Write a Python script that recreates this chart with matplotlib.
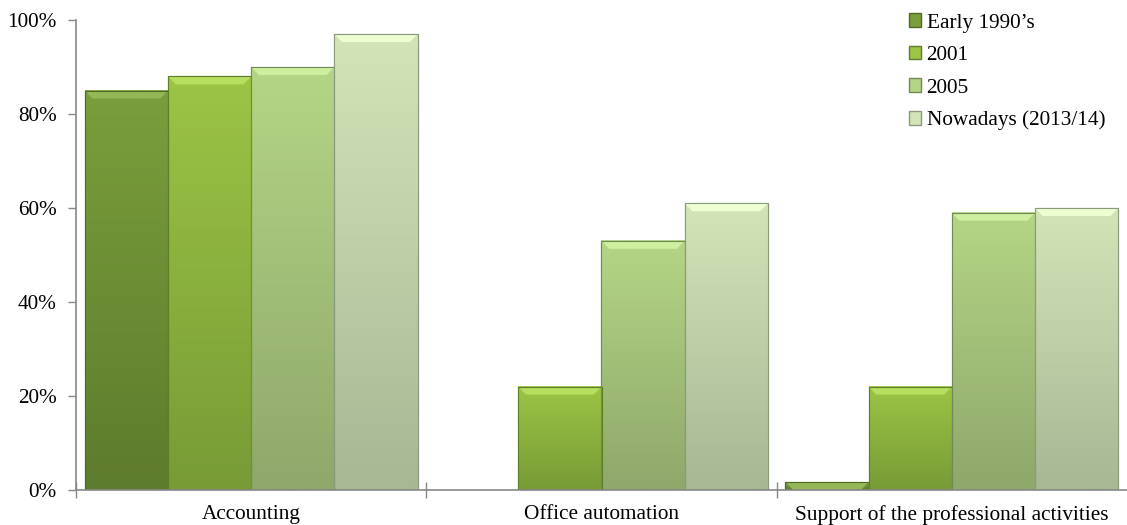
import numpy as np
import matplotlib.pyplot as plt
from matplotlib.patches import Patch, Polygon
from matplotlib.colors import to_rgb

# data
categories = ['Accounting', 'Office automation', 'Support of the professional activities']
series = ["Early 1990\u2019s", '2001', '2005', 'Nowadays (2013/14)']
early_1990s = [85, 0, 1.7]
y2001 = [88, 22, 22]
y2005 = [90, 53, 59]
nowadays = [97, 61, 60]
values = [early_1990s, y2001, y2005, nowadays]

# top / bottom colours for each series
top_colors = ['#7a9e3b', '#9cc445', '#b4d585', '#d3e4b8']
bottom_colors = ['#5e7c2d', '#789b36', '#8fa86b', '#a8b794']
edge_colors = ['#4f6a25', '#5f7d2a', '#72885a', '#8a9a7a']

plt.rcParams['font.family'] = ['Liberation Serif', 'DejaVu Serif']
FS = 15.3

fig = plt.figure(figsize=(11.27, 5.25), dpi=100)
ax = fig.add_axes([76 / 1127, 1 - 490 / 525, 1 - 76 / 1127, 470 / 525])

x = np.arange(len(categories))
group_w = 0.95
bar_w = group_w / len(series)

for i, vals in enumerate(values):
    offs = x - group_w / 2 + bar_w * (i + 0.5)
    bars = ax.bar(offs, vals, width=bar_w, color=top_colors[i], edgecolor=edge_colors[i],
                  linewidth=0.8, zorder=2)
    c1 = np.array(to_rgb(top_colors[i]))
    c2 = np.array(to_rgb(bottom_colors[i]))
    for b in bars:
        h = b.get_height()
        if h <= 0:
            b.set_visible(False)
            continue
        t = np.linspace(0, 1, 64)[:, None]
        grad = (c1 * (1 - t) + c2 * t)[:, None, :]
        ax.imshow(grad, extent=(b.get_x(), b.get_x() + b.get_width(), 0, h),
                  aspect='auto', zorder=2.1, interpolation='bilinear')
        # bevel highlight on top
        d = min(0.022, b.get_width() / 2)
        tb = min(1.7, h)
        light = np.clip(c1 + 0.1, 0, 1)
        ax.add_patch(Polygon([(b.get_x(), h), (b.get_x() + b.get_width(), h),
                              (b.get_x() + b.get_width() - d, h - tb), (b.get_x() + d, h - tb)],
                             closed=True, facecolor=light, edgecolor='none', zorder=2.2))
        ax.add_patch(plt.Rectangle((b.get_x(), 0), b.get_width(), h, fill=False,
                                   edgecolor=edge_colors[i], linewidth=0.8, zorder=2.3))

ax.set_xlim(-0.5, 2.5)
ax.set_ylim(0, 100)

ax.set_yticks(np.arange(0, 101, 20))
ax.set_yticklabels([f'{v}%' for v in range(0, 101, 20)], fontsize=FS)
ax.set_xticks(x)
ax.set_xticklabels(categories, fontsize=FS)
ax.tick_params(axis='x', which='major', length=0, pad=11)
ax.set_xticks([-0.5, 0.5, 1.5], minor=True)
ax.tick_params(axis='x', which='minor', direction='inout', length=12, color='#888888', width=1)
ax.tick_params(axis='y', length=6, color='#888888', width=1, pad=8)

for s in ['top', 'right']:
    ax.spines[s].set_visible(False)
for s in ['left', 'bottom']:
    ax.spines[s].set_color('#888888')
    ax.spines[s].set_linewidth(1.2)

handles = [Patch(facecolor=top_colors[i], edgecolor=edge_colors[i]) for i in range(len(series))]
ax.legend(handles, series, loc='upper left', bbox_to_anchor=(824 / 1051, 1.032), frameon=False,
          fontsize=FS, handlelength=0.6, handleheight=0.6, handletextpad=0.25,
          labelspacing=0.62, borderaxespad=0.0)

fig.savefig('out.png', dpi=100)
